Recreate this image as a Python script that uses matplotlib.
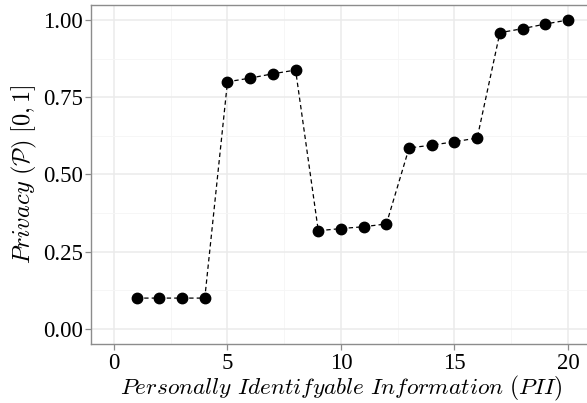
import matplotlib
matplotlib.use('Agg')
import matplotlib.pyplot as plt
from matplotlib.ticker import MultipleLocator, FixedLocator

plt.rcParams['mathtext.fontset'] = 'cm'

# data
pii = list(range(1, 21))
privacy = [0.10, 0.10, 0.10, 0.10,
           0.800, 0.812, 0.826, 0.838,
           0.318, 0.325, 0.331, 0.340,
           0.586, 0.595, 0.606, 0.618,
           0.959, 0.972, 0.987, 1.000]
xticks = [0, 5, 10, 15, 20]
yticks = [0.00, 0.25, 0.50, 0.75, 1.00]

fig = plt.figure(figsize=(5.87, 4.03), dpi=100)
ax = fig.add_axes([0.1555, 0.1453, 0.8508, 0.8434])

ax.plot(pii, privacy, color='black', linestyle=(0, (3.5, 2.5)), linewidth=0.9,
        marker='o', markersize=7.5, markerfacecolor='black', markeredgecolor='black',
        zorder=3)

ax.set_xlim(-1, 21)
ax.set_ylim(-0.05, 1.05)
ax.xaxis.set_major_locator(FixedLocator(xticks))
ax.yaxis.set_major_locator(FixedLocator(yticks))
ax.xaxis.set_minor_locator(MultipleLocator(2.5))
ax.yaxis.set_minor_locator(MultipleLocator(0.125))
ax.set_xticklabels([str(v) for v in xticks])
ax.set_yticklabels(['%.2f' % v for v in yticks])

ax.grid(which='major', color='#ebebeb', linewidth=1.1, zorder=0)
ax.grid(which='minor', color='#f5f5f5', linewidth=0.6, zorder=0)
ax.set_axisbelow(True)

for side in ['top', 'left', 'bottom']:
    ax.spines[side].set_color('#8c8c8c')
    ax.spines[side].set_linewidth(1.0)
ax.spines['right'].set_visible(False)

ax.tick_params(which='major', length=4, width=0.9, color='#8c8c8c', pad=2)
ax.tick_params(which='minor', length=0)
for lab in ax.get_xticklabels() + ax.get_yticklabels():
    lab.set_fontfamily('Liberation Serif')
    lab.set_fontsize(16.5)
    lab.set_color('black')

ax.set_xlabel(r'$Personally\ Identifyable\ Information\ (PII)$', fontsize=16.8, labelpad=0)
ax.set_ylabel(r'$Privacy\ (\mathcal{P})\ [0,1]$', fontsize=17.5, labelpad=3)

fig.savefig('out.png', dpi=100)
